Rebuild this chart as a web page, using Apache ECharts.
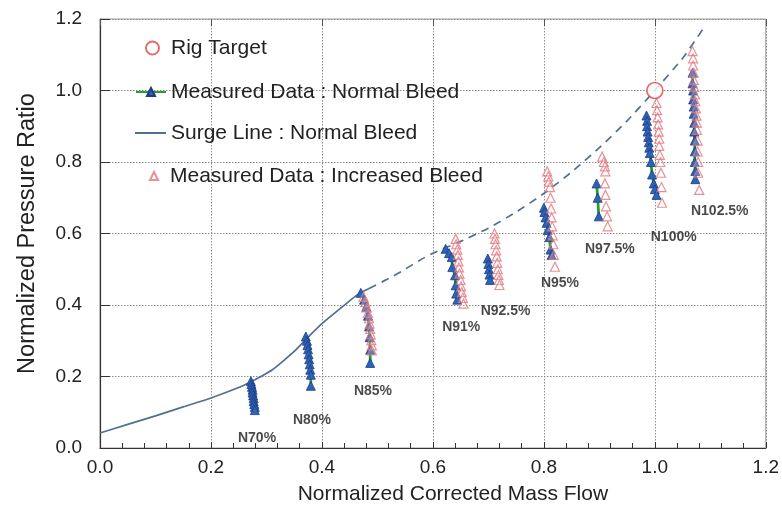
<!DOCTYPE html>
<html>
<head>
<meta charset="utf-8">
<script src="https://cdn.jsdelivr.net/npm/echarts@6/dist/echarts.min.js"></script>
<style>html,body{margin:0;padding:0;background:#fff}#c{width:782px;height:510px}</style>
</head>
<body>
<div id="c"></div>
<script>
// ---- data ----
const xTicks = [0, 0.2, 0.4, 0.6, 0.8, 1.0, 1.2];
const yTicks = [0, 0.2, 0.4, 0.6, 0.8, 1.0, 1.2];

const surgeSolid = [[0,0.042],[0.05,0.066],[0.1,0.09],[0.15,0.115],[0.2,0.14],[0.25,0.169],[0.273,0.186],[0.29,0.200],[0.31,0.218],[0.33,0.243],[0.35,0.270],[0.37,0.302],[0.38,0.318],[0.40,0.348],[0.42,0.374],[0.44,0.399],[0.46,0.424],[0.473,0.437],[0.485,0.446]];
const surgeDashed = [[0.485,0.446],[0.52,0.474],[0.55,0.500],[0.575,0.524],[0.60,0.545],[0.65,0.578],[0.70,0.615],[0.75,0.660],[0.80,0.712],[0.85,0.772],[0.90,0.840],[0.95,0.915],[1.00,1.00],[1.05,1.09],[1.086,1.17]];

const rigTarget = [[1.0, 1.0]];

const normal70 = [[0.272,0.187],[0.273,0.179],[0.274,0.171],[0.275,0.163],[0.275,0.155],[0.276,0.147],[0.277,0.139],[0.277,0.131],[0.278,0.123],[0.279,0.115],[0.279,0.106]];
const normal80 = [[0.371,0.312],[0.373,0.300],[0.374,0.288],[0.375,0.276],[0.376,0.262],[0.377,0.248],[0.378,0.234],[0.379,0.219],[0.380,0.205],[0.380,0.174]];
const normal85 = [[0.470,0.434],[0.476,0.415],[0.480,0.395],[0.483,0.370],[0.485,0.340],[0.486,0.310],[0.487,0.275],[0.487,0.238]];
const normal91 = [[0.623,0.557],[0.629,0.545],[0.634,0.534],[0.635,0.506],[0.640,0.483],[0.641,0.455],[0.642,0.432],[0.644,0.415]];
const normal925 = [[0.699,0.530],[0.700,0.515],[0.701,0.500],[0.702,0.485],[0.703,0.470]];
const normal95 = [[0.800,0.672],[0.801,0.660],[0.803,0.645],[0.805,0.630],[0.807,0.610],[0.810,0.590],[0.812,0.555],[0.814,0.540]];
const normal975 = [[0.895,0.740],[0.897,0.700],[0.899,0.648]];
const normal100 = [[0.985,0.930],[0.986,0.915],[0.986,0.900],[0.987,0.885],[0.988,0.870],[0.989,0.855],[0.990,0.840],[0.991,0.825],[0.993,0.800],[0.995,0.765],[0.998,0.740],[1.000,0.724],[1.003,0.708]];
const normal1025 = [[1.068,1.050],[1.068,1.020],[1.069,1.000],[1.069,0.975],[1.070,0.955],[1.070,0.935],[1.071,0.910],[1.071,0.885],[1.072,0.860],[1.072,0.830],[1.072,0.800],[1.073,0.775],[1.073,0.752]];

const increased85 = [[0.475,0.423],[0.478,0.408],[0.481,0.393],[0.483,0.378],[0.485,0.363],[0.486,0.348],[0.487,0.333],[0.488,0.318],[0.489,0.302],[0.490,0.287],[0.490,0.273]];
const increased91 = [[0.641,0.585],[0.642,0.570],[0.644,0.555],[0.645,0.540],[0.646,0.522],[0.647,0.505],[0.648,0.488],[0.650,0.470],[0.651,0.452],[0.652,0.436],[0.654,0.420],[0.655,0.404]];
const increased925 = [[0.711,0.600],[0.712,0.585],[0.713,0.570],[0.714,0.553],[0.715,0.536],[0.716,0.518],[0.717,0.500],[0.718,0.484],[0.719,0.470],[0.720,0.456]];
const increased95 = [[0.806,0.774],[0.808,0.760],[0.809,0.745],[0.811,0.730],[0.812,0.700],[0.813,0.670],[0.814,0.645],[0.815,0.620],[0.816,0.595],[0.817,0.570],[0.818,0.540],[0.820,0.507]];
const increased975 = [[0.905,0.815],[0.908,0.800],[0.910,0.788],[0.911,0.774],[0.910,0.740],[0.911,0.708],[0.912,0.676],[0.914,0.648],[0.915,0.620]];
const increased100 = [[1.003,0.965],[1.004,0.945],[1.005,0.925],[1.006,0.905],[1.007,0.885],[1.008,0.865],[1.008,0.845],[1.009,0.820],[1.010,0.800],[1.011,0.770],[1.012,0.730],[1.013,0.686]];
const increased1025 = [[1.068,1.110],[1.069,1.090],[1.069,1.070],[1.070,1.050],[1.070,1.030],[1.071,1.010],[1.072,0.990],[1.073,0.970],[1.074,0.950],[1.075,0.930],[1.076,0.910],[1.076,0.890],[1.077,0.860],[1.077,0.830],[1.078,0.800],[1.078,0.770],[1.080,0.722]];

const speedLabels = ['N70%','N80%','N85%','N91%','N92.5%','N95%','N97.5%','N100%','N102.5%'];
const speedLabelX = [0.283,0.382,0.492,0.651,0.731,0.829,0.919,1.034,1.117];
const speedLabelY = [0.028,0.078,0.159,0.337,0.382,0.460,0.557,0.591,0.663];

// ---- chart ----
const NB = 'Measured Data : Normal Bleed';
const IB = 'Measured Data : Increased Bleed';
const SL = 'Surge Line : Normal Bleed';
const RT = 'Rig Target';
const FONT = 'Liberation Sans, Arial, sans-serif';
const surgeColor = '#526f92';
const blueFill = '#2d63b8', blueEdge = '#1b3c82', green = '#22a22a', pink = '#e2767c';

const normalSets = [normal70, normal80, normal85, normal91, normal925, normal95, normal975, normal100, normal1025];
const increasedAll = [].concat(increased85, increased91, increased925, increased95, increased975, increased100, increased1025);

const series = [];
series.push({name: SL, type: 'line', data: surgeSolid, smooth: 0.2, showSymbol: false, symbol: 'none',
  lineStyle: {color: surgeColor, width: 1.7}, itemStyle: {color: surgeColor}, z: 2});
series.push({name: SL, type: 'line', data: surgeDashed, smooth: 0.2, showSymbol: false, symbol: 'none',
  lineStyle: {color: surgeColor, width: 1.7, type: [8, 6]}, itemStyle: {color: surgeColor}, z: 2});
normalSets.forEach(d => series.push({name: NB, type: 'line', data: d, symbol: 'triangle', symbolSize: 9, showAllSymbol: true,
  lineStyle: {color: green, width: 2.8}, itemStyle: {color: blueFill, borderColor: blueEdge, borderWidth: 0.8}, z: 3}));
series.push({name: IB, type: 'scatter', data: increasedAll, symbol: 'triangle', symbolSize: 9,
  itemStyle: {color: 'rgba(255,255,255,0.25)', borderColor: pink, borderWidth: 1.2}, z: 4});
series.push({name: RT, type: 'scatter', data: rigTarget, symbol: 'circle', symbolSize: 16,
  itemStyle: {color: '#fff', borderColor: '#e04848', borderWidth: 1.7}, z: 5});
series.push({type: 'scatter', data: speedLabels.map((n, i) => ({name: n, value: [speedLabelX[i], speedLabelY[i]]})),
  symbolSize: 0, silent: true, z: 6,
  label: {show: true, position: 'inside', formatter: p => p.name, color: '#1a1a1a', fontSize: 14, fontWeight: 'bold', fontFamily: FONT}});

const legendText = {color: '#222', fontSize: 21, fontFamily: FONT, lineHeight: 22};
function lg(data, left, top, w, h, pad) {
  return {data: data, left: left, top: top, orient: 'vertical', itemWidth: w, itemHeight: h, padding: 0,
    selectedMode: false, textStyle: Object.assign({}, legendText, {padding: [0, 0, 0, pad]})};
}

const chart = echarts.init(document.getElementById('c'), null, {renderer: 'canvas'});
chart.setOption({
  animation: false,
  backgroundColor: '#fff',
  grid: {left: 100, right: 15, top: 19, bottom: 60, show: true, borderColor: '#9a9a9a', borderWidth: 1},
  legend: [
    lg([RT], 145, 37, 13, 13, 7),
    lg([NB], 135, 81, 30, 10, 0),
    lg([{name: SL, icon: 'rect'}], 135, 122, 31, 2, 0),
    lg([IB], 149, 165, 8, 8, 7)
  ],
  xAxis: [{
    type: 'value', min: 0, max: 1.2, interval: 0.2,
    name: 'Normalized Corrected Mass Flow', nameLocation: 'middle', nameGap: 36,
    nameTextStyle: {color: '#222', fontSize: 21, fontFamily: FONT, padding: [0, 0, 0, 40]},
    axisLine: {show: true, lineStyle: {color: '#333', width: 1.2}},
    axisTick: {show: true, inside: true, length: 6, lineStyle: {color: '#333'}},
    minorTick: {show: true, splitNumber: 5, length: 5, lineStyle: {color: '#333'}},
    axisLabel: {color: '#222', fontSize: 19, margin: 10, fontFamily: FONT, formatter: v => v.toFixed(1)},
    splitLine: {show: true, lineStyle: {color: '#8c8c8c', type: [1.5, 1.5], width: 1}}
  }, {
    type: 'value', position: 'top', min: 0, max: 1.2, interval: 0.2,
    axisLine: {show: false}, axisLabel: {show: false}, splitLine: {show: false},
    axisTick: {show: true, inside: true, length: 7, lineStyle: {color: '#555'}}
  }],
  yAxis: {
    type: 'value', min: 0, max: 1.2, interval: 0.2,
    name: 'Normalized Pressure Ratio', nameLocation: 'middle', nameGap: 60,
    nameTextStyle: {color: '#222', fontSize: 23.5, fontFamily: FONT},
    axisLine: {show: true, lineStyle: {color: '#333', width: 1.2}},
    axisTick: {show: true, inside: true, length: 10, lineStyle: {color: '#333'}},
    axisLabel: {color: '#222', fontSize: 19, margin: 18, fontFamily: FONT, formatter: v => v.toFixed(1)},
    splitLine: {show: true, lineStyle: {color: '#8c8c8c', type: [1.5, 1.5], width: 1}}
  },
  series: series
});
</script>
</body>
</html>
